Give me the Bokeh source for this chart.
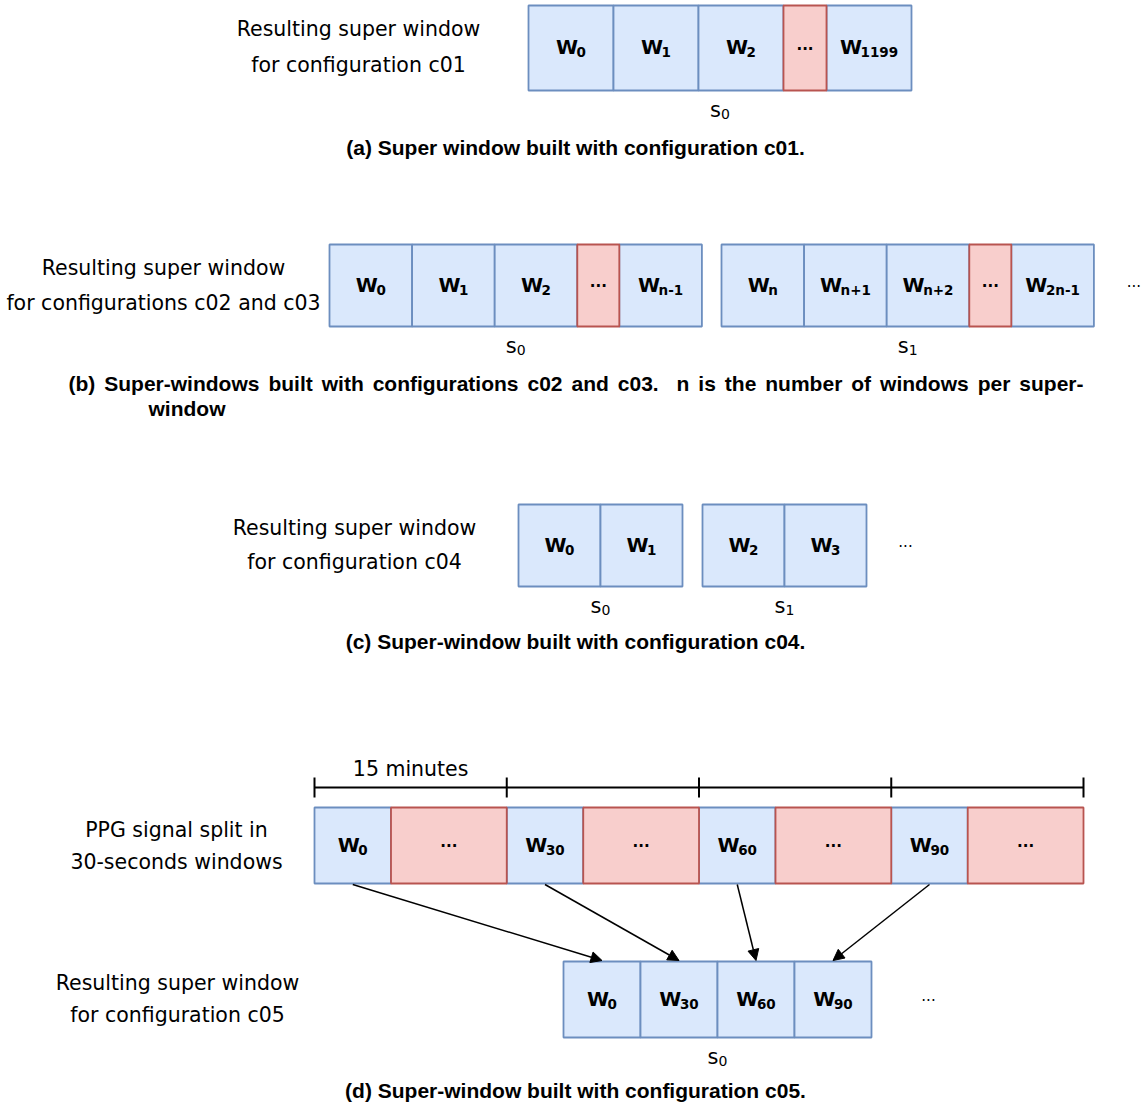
import re
from bokeh.plotting import figure
from bokeh.models import Range1d, Arrow, NormalHead
from bokeh.embed import file_html
from bokeh.resources import INLINE
from bokeh.core.properties import value

# ---------------- data ----------------
A_KINDS = ["w", "w", "w", "gap", "w"]
A_SUBS = ["0", "1", "2", "", "1199"]
B_KINDS = ["w", "w", "w", "gap", "w"]
B_S0_SUBS = ["0", "1", "2", "", "n-1"]
B_S1_SUBS = ["n", "n+1", "n+2", "", "2n-1"]
C_KINDS = ["w", "w"]
C_S0_SUBS = ["0", "1"]
C_S1_SUBS = ["2", "3"]
D_SIG_KINDS = ["w", "gap", "w", "gap", "w", "gap", "w", "gap"]
D_SIG_SUBS = ["0", "", "30", "", "60", "", "90", ""]
D_SUP_KINDS = ["w", "w", "w", "w"]
D_SUP_SUBS = ["0", "30", "60", "90"]
D_ARROWS_FROM = [0, 2, 4, 6]
D_ARROWS_TO = [0, 1, 2, 3]
D_TIMELINE_SEGMENTS = 4
D_TIMELINE_LABEL = "15 minutes"

LABEL_A = ["Resulting super window", "for configuration c01"]
LABEL_B = ["Resulting super window", "for configurations c02 and c03"]
LABEL_C = ["Resulting super window", "for configuration c04"]
LABEL_D_SIG = ["PPG signal split in", "30-seconds windows"]
LABEL_D_SUP = ["Resulting super window", "for configuration c05"]

CAPTION_A = "(a) Super window built with configuration c01."
CAPTION_B = ["(b) Super-windows built with configurations c02 and c03.  n is the number of windows per super-",
             "window"]
CAPTION_C = "(c) Super-window built with configuration c04."
CAPTION_D = "(d) Super-window built with configuration c05."

# ---------------- styles ----------------
BLUE_FILL, BLUE_LINE = "#dae8fc", "#6c8ebf"
RED_FILL, RED_LINE = "#f8cecc", "#b85450"
LW = 1.8
LABEL_FONT = "DejaVu Sans"
CAP_FONT = "Liberation Sans"
W_FS, SUB_FS, LABEL_FS, CAP_FS = 20, 13.5, 20.5, 21
BASE_SHIFT = -6.5  # correction for alphabetic baseline placement

# approximate advance widths (em)
DV_BOLD = {"W": 1.03, "n": 0.712, "+": 0.838, "-": 0.416}
ARIAL_BOLD = {" ": .278, "(": .333, ")": .333, "-": .333, ".": .278, "S": .667, "a": .556, "b": .611,
              "c": .556, "d": .611, "e": .556, "f": .333, "g": .611, "h": .611, "i": .278, "l": .278,
              "m": .889, "n": .611, "o": .611, "p": .611, "r": .389, "s": .556, "t": .333, "u": .611,
              "w": .778}


def dv_w(s, fs):
    return sum(DV_BOLD.get(ch, 0.696) for ch in s) * fs


def ar_w(s, fs):
    return sum(ARIAL_BOLD.get(ch, 0.556) for ch in s) * fs


p = figure(width=1147, height=1106, x_range=Range1d(0, 1147), y_range=Range1d(1106, 0),
           output_backend="svg", toolbar_location=None, min_border=0,
           x_axis_location=None, y_axis_location=None)
p.grid.visible = False
p.outline_line_color = None
p.background_fill_color = "white"


def txt(xs, ys, texts, size, bold=False, align="center", baseline="alphabetic", font=LABEL_FONT):
    if baseline == "alphabetic":
        ys = [y + BASE_SHIFT for y in ys]
    p.text(x=xs, y=ys, text=texts, text_font=value(font), text_font_size=value(f"{size}px"),
           text_font_style="bold" if bold else "normal", text_align=align,
           text_baseline=baseline, text_color="black")


def cells(x0, y_top, y_bot, kinds, subs, wcell, wgap):
    lefts, rights = [], []
    x = x0
    for k in kinds:
        w = wcell if k == "w" else wgap
        lefts.append(x)
        rights.append(x + w)
        x += w
    cy = (y_top + y_bot) / 2
    for kind, fill, line in (("w", BLUE_FILL, BLUE_LINE), ("gap", RED_FILL, RED_LINE)):
        idx = [i for i, k in enumerate(kinds) if k == kind]
        if idx:
            p.quad(left=[lefts[i] for i in idx], right=[rights[i] for i in idx],
                   top=[y_top] * len(idx), bottom=[y_bot] * len(idx),
                   fill_color=fill, line_color=line, line_width=LW)
    wx, wy, sx, sy, st, gx = [], [], [], [], [], []
    for i, k in enumerate(kinds):
        c = (lefts[i] + rights[i]) / 2
        if k == "w":
            ww = dv_w("W", W_FS)
            ws = dv_w(subs[i], SUB_FS)
            start = c - (ww + ws) / 2
            wx.append(start); wy.append(cy + 0.28 * W_FS)
            sx.append(start + ww); sy.append(cy + 0.28 * W_FS + 5)
            st.append(subs[i])
        else:
            gx.append(c)
    txt(wx, wy, ["W"] * len(wx), W_FS, bold=True, align="left")
    txt(sx, sy, st, SUB_FS, bold=True, align="left")
    if gx:
        txt(gx, [cy + 2] * len(gx), ["..."] * len(gx), 15, bold=True)
    return lefts, rights, cy


def s_label(cx, y_bot, sub):
    ws = 0.521 * 21
    wsub = 0.636 * 14 * len(sub)
    start = cx - (ws + wsub) / 2
    txt([start], [y_bot + 26], ["s"], 21, align="left")
    txt([start + ws], [y_bot + 30], [sub], 14, align="left")


def side_label(cx, cy, lines, gap):
    txt([cx, cx], [cy - gap, cy + gap], lines, LABEL_FS, baseline="middle")


def caption(cx, y, s):
    txt([cx], [y], [s], CAP_FS, bold=True, baseline="middle", font=CAP_FONT)


def caption_justified(x0, width, y, s):
    toks = re.split(r"( +)", s)
    nat = sum(ar_w(t, CAP_FS) for t in toks)
    nsp = sum(len(t) for t in toks if t.strip() == "")
    extra = (width - nat) / nsp
    xs, words = [], []
    x = x0
    for t in toks:
        if t.strip() == "":
            x += ar_w(t, CAP_FS) + extra * len(t)
        else:
            xs.append(x); words.append(t)
            x += ar_w(t, CAP_FS)
    txt(xs, [y] * len(xs), words, CAP_FS, bold=True, align="left", baseline="middle", font=CAP_FONT)


# ---------------- (a) ----------------
l, r, cy = cells(528, 5, 90, A_KINDS, A_SUBS, 85, 43)
side_label(358, cy - 1.5, LABEL_A, 18)
s_label((l[0] + r[-1]) / 2, 90, "0")
caption(575, 147, CAPTION_A)

# ---------------- (b) ----------------
l0, r0, cy = cells(329, 244, 326, B_KINDS, B_S0_SUBS, 82.6, 42)
l1, r1, _ = cells(721, 244, 326, B_KINDS, B_S1_SUBS, 82.6, 42)
side_label(163, cy, LABEL_B, 17.5)
s_label((l0[0] + r0[-1]) / 2, 326, "0")
s_label((l1[0] + r1[-1]) / 2, 326, "1")
txt([r1[-1] + 40], [cy + 2], ["..."], 15)
caption_justified(68, 1015, 383, CAPTION_B[0])
txt([148], [408], [CAPTION_B[1]], CAP_FS, bold=True, align="left", baseline="middle", font=CAP_FONT)

# ---------------- (c) ----------------
l0, r0, cy = cells(518, 504, 586, C_KINDS, C_S0_SUBS, 82, 0)
l1, r1, _ = cells(702, 504, 586, C_KINDS, C_S1_SUBS, 82, 0)
side_label(354, cy - 1, LABEL_C, 17)
s_label((l0[0] + r0[-1]) / 2, 586, "0")
s_label((l1[0] + r1[-1]) / 2, 586, "1")
txt([r1[-1] + 39], [cy + 2], ["..."], 15)
caption(575, 641, CAPTION_C)

# ---------------- (d) ----------------
sl, sr, scy = cells(314, 807, 883, D_SIG_KINDS, D_SIG_SUBS, 76.5, 115.75)
side_label(176, scy, LABEL_D_SIG, 16)
seg = (sr[-1] - sl[0]) / D_TIMELINE_SEGMENTS
ticks = [sl[0] + i * seg for i in range(D_TIMELINE_SEGMENTS + 1)]
p.segment(x0=[ticks[0]], y0=[787], x1=[ticks[-1]], y1=[787], line_color="black", line_width=2)
p.segment(x0=ticks, y0=[777] * len(ticks), x1=ticks, y1=[797] * len(ticks), line_color="black", line_width=2)
txt([(ticks[0] + ticks[1]) / 2], [768], [D_TIMELINE_LABEL], LABEL_FS, baseline="middle")

ul, ur, ucy = cells(563, 961, 1037, D_SUP_KINDS, D_SUP_SUBS, 77, 0)
side_label(177, ucy - 1, LABEL_D_SUP, 16)
s_label((ul[0] + ur[-1]) / 2, 1037, "0")
txt([ur[-1] + 57], [ucy + 2], ["..."], 15)

for fi, ti in zip(D_ARROWS_FROM, D_ARROWS_TO):
    x_s = (sl[fi] + sr[fi]) / 2
    x_e = (ul[ti] + ur[ti]) / 2
    p.add_layout(Arrow(end=NormalHead(size=11, fill_color="black", line_color="black", line_width=1),
                       x_start=x_s, y_start=884, x_end=x_e, y_end=960,
                       line_color="black", line_width=1.5))

caption(575, 1090, CAPTION_D)

open("out.html", "w").write(file_html(p, INLINE))
